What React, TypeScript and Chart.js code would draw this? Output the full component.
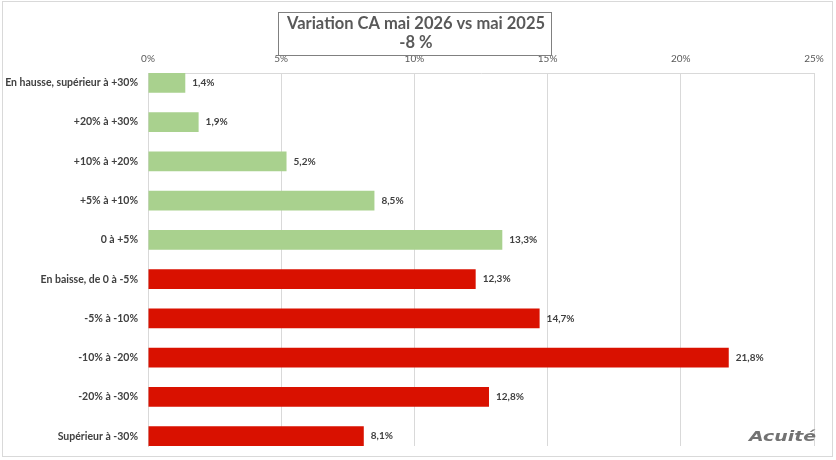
import { useEffect, useRef } from "react";
import { Chart, registerables, Plugin } from "chart.js";

Chart.register(...registerables);

const categories = [
  "En hausse, supérieur à +30%",
  "+20% à +30%",
  "+10% à +20%",
  "+5% à +10%",
  "0 à +5%",
  "En baisse, de 0 à -5%",
  "-5% à -10%",
  "-10% à -20%",
  "-20% à -30%",
  "Supérieur à -30%",
];
const shares = [1.4, 1.9, 5.2, 8.5, 13.3, 12.3, 14.7, 21.8, 12.8, 8.1];
const trend = ["hausse", "hausse", "hausse", "hausse", "hausse", "baisse", "baisse", "baisse", "baisse", "baisse"];
const xTicks = [0, 5, 10, 15, 20, 25];
const titleLines = ["Variation CA mai 2026 vs mai 2025", "-8 %"];
const logoText = "Acuité";

const FONT = "Lato, 'Noto Sans', sans-serif";
const GREEN = "#A9D18E";
const RED = "#D91100";
const GRID = "#d9d9d9";

const fmt = (v: number) => v.toFixed(1).replace(".", ",") + "%";

// frame, title box and logo
const decorPlugin: Plugin<"bar"> = {
  id: "decor",
  beforeDraw(chart) {
    const { ctx, width, height } = chart;
    ctx.save();
    ctx.fillStyle = "#fff";
    ctx.fillRect(0, 0, width, height);
    ctx.strokeStyle = GRID;
    ctx.lineWidth = 1;
    ctx.strokeRect(2.5, 1.5, 830, 455);
    ctx.restore();
  },
  afterDraw(chart) {
    const { ctx } = chart;
    ctx.save();
    const cx = 416;
    ctx.strokeStyle = "#808080";
    ctx.lineWidth = 1;
    ctx.strokeRect(278.5, 12.5, 273, 43);
    ctx.fillStyle = "#595959";
    ctx.textAlign = "center";
    ctx.textBaseline = "middle";
    ctx.font = `bold 16.5px ${FONT}`;
    ctx.fillText(titleLines[0], cx, 24);
    ctx.fillText(titleLines[1], cx, 43);

    // logo, stretched wide like the original wordmark
    ctx.font = "italic bold 14px 'DejaVu Sans', sans-serif";
    ctx.fillStyle = "#737373";
    ctx.textAlign = "left";
    const w = ctx.measureText(logoText).width;
    const sx = 67 / w;
    ctx.translate(749, 437);
    ctx.scale(sx, 1);
    ctx.fillText(logoText, 0, 0);
    ctx.restore();
  },
};

const valueLabels: Plugin<"bar"> = {
  id: "valueLabels",
  afterDatasetsDraw(chart) {
    const { ctx } = chart;
    const meta = chart.getDatasetMeta(0);
    ctx.save();
    ctx.font = `bold 10px ${FONT}`;
    ctx.fillStyle = "#404040";
    ctx.textAlign = "left";
    ctx.textBaseline = "middle";
    meta.data.forEach((el: any, i) => {
      ctx.fillText(fmt(shares[i]), el.x + 7, el.y);
    });
    ctx.restore();
  },
};

export default function App() {
  const canvasRef = useRef<HTMLCanvasElement>(null);
  const chartRef = useRef<Chart<"bar", { x: number; y: number }[]> | null>(null);

  useEffect(() => {
    document.body.style.margin = "0";
    if (!canvasRef.current) return;
    if (chartRef.current) chartRef.current.destroy();

    chartRef.current = new Chart(canvasRef.current, {
      type: "bar",
      data: {
        datasets: [
          {
            data: shares.map((v, i) => ({ x: v, y: i })),
            backgroundColor: trend.map((t) => (t === "hausse" ? GREEN : RED)),
            borderWidth: 0,
            categoryPercentage: 1,
            barPercentage: 0.5,
          },
        ],
      },
      options: {
        indexAxis: "y",
        animation: false,
        responsive: true,
        maintainAspectRatio: false,
        layout: { padding: { top: 50, right: 22, bottom: 14, left: 0 } },
        plugins: {
          legend: { display: false },
          tooltip: { enabled: false },
          title: { display: false },
        },
        scales: {
          x: {
            type: "linear",
            position: "top",
            min: xTicks[0],
            max: xTicks[xTicks.length - 1],
            afterBuildTicks: (scale) => {
              scale.ticks = xTicks.map((v) => ({ value: v }));
            },
            afterFit: (scale) => {
              scale.height = 23;
            },
            ticks: {
              callback: (v) => v + "%",
              padding: 8,
              color: "#595959",
              font: { family: FONT, size: 10 },
            },
            grid: { color: GRID, drawTicks: false },
            border: { color: GRID },
          },
          y: {
            type: "linear",
            reverse: true,
            offset: false,
            min: -0.25,
            max: categories.length - 0.75,
            afterBuildTicks: (scale) => {
              scale.ticks = categories.map((_, i) => ({ value: i }));
            },
            afterFit: (scale) => {
              scale.width = 148;
              scale.paddingTop = 0;
              scale.paddingBottom = 0;
            },
            ticks: {
              autoSkip: false,
              callback: (v) => categories[v as number],
              padding: 10,
              color: "#404040",
              font: { family: FONT, size: 10.5, weight: "bold" },
            },
            grid: { display: false, drawTicks: false, offset: false },
            border: { color: GRID },
          },
        },
      },
      plugins: [decorPlugin, valueLabels],
    });

    return () => {
      if (chartRef.current) {
        chartRef.current.destroy();
        chartRef.current = null;
      }
    };
  }, []);

  return (
    <div style={{ position: "relative", width: 836, height: 460 }}>
      <canvas ref={canvasRef} />
    </div>
  );
}
